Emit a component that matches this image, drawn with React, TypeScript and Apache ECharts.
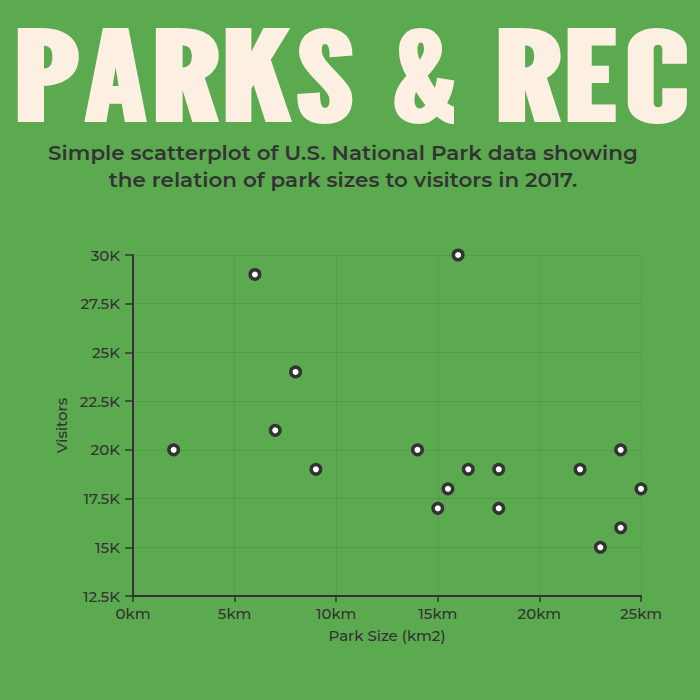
import React, { useEffect, useRef } from "react";
import * as echarts from "echarts";

const parkSizes = [2, 6, 7, 8, 9, 14, 15, 15.5, 16, 16.5, 18, 18, 22, 23, 24, 24, 25];
const visitors = [20000, 29000, 21000, 24000, 19000, 20000, 17000, 18000, 30000, 19000, 19000, 17000, 19000, 15000, 20000, 16000, 18000];
const titleText = "PARKS & REC";
const subtitleLines = [
  "Simple scatterplot of U.S. National Park data showing",
  "the relation of park sizes to visitors in 2017.",
];
const xAxisName = "Park Size (km2)";
const yAxisName = "Visitors";
const xMin = 0;
const xMax = 25;
const xStep = 5;
const yMin = 12500;
const yMax = 30000;
const yStep = 2500;

// horizontal ink extents of the title letters (layout, in px)
const titleLetterBoxes: [number, number][] = [
  [17, 79], [83, 147], [155, 220], [225, 293], [297, 353],
  [393, 455],
  [498, 562], [567, 617], [626, 687],
];
const TITLE_CAP_CENTER = 74;
const TITLE_CAP_HEIGHT = 103;

const TITLE_FONT = "'League Gothic', 'Liberation Sans Narrow', 'DejaVu Sans Condensed', 'DejaVu Sans', sans-serif";
const BODY_FONT = "'Montserrat', 'Noto Sans', 'Open Sans', sans-serif";

function getCtx(font: string) {
  const c = document.createElement("canvas");
  const ctx = c.getContext("2d");
  if (ctx) ctx.font = font;
  return ctx;
}

export default function App() {
  const ref = useRef<HTMLDivElement | null>(null);

  useEffect(() => {
    if (!ref.current) return;
    const chart = echarts.init(ref.current, undefined, { renderer: "svg" });

    const titleSize = 100;
    const titleFontStr = `bold ${titleSize}px ${TITLE_FONT}`;
    const tctx = getCtx(titleFontStr);
    const letters = titleText.replace(/ /g, "").split("");
    const capM = tctx ? tctx.measureText("H") : null;
    const c = (capM && capM.actualBoundingBoxAscent ? capM.actualBoundingBoxAscent : 72) / titleSize;
    const a = (capM && capM.fontBoundingBoxAscent ? capM.fontBoundingBoxAscent : 93) / titleSize;
    const d = (capM && capM.fontBoundingBoxDescent ? capM.fontBoundingBoxDescent : 24) / titleSize;
    // effective font size: as close to the reference cap height as the top edge allows
    const kMax = (TITLE_CAP_CENTER - 2) / (a - c / 2);
    const k = Math.min(TITLE_CAP_HEIGHT / c, kMax);
    const sy = k / titleSize;
    const baseline = TITLE_CAP_CENTER + (k * c) / 2;
    const centralY = baseline - (k * (a - d)) / 2;

    const titleGraphics = letters.map((ch, i) => {
      const [x0, x1] = titleLetterBoxes[i];
      let L = 0;
      let R = 0.6 * titleSize;
      if (tctx) {
        const m = tctx.measureText(ch);
        L = m.actualBoundingBoxLeft || 0;
        R = m.actualBoundingBoxRight || m.width;
      }
      const sx = (x1 - x0) / (L + R);
      return {
        type: "text",
        x: x0 + sx * L,
        y: centralY,
        scaleX: sx,
        scaleY: sy,
        style: {
          text: ch,
          fontSize: titleSize,
          fontWeight: "bold",
          fontFamily: TITLE_FONT,
          fill: "#fdf0e3",
          align: "left",
          verticalAlign: "middle",
        },
      };
    });

    const subSize = 20;
    const subWeight = 600;
    const sctx = getCtx(`${subWeight} ${subSize}px ${BODY_FONT}`);
    const sw = sctx ? sctx.measureText(subtitleLines[0]).width : 590;
    const subScaleX = Math.min(1.15, Math.max(0.8, 590 / (sw || 590)));

    const dark = "#333333";

    chart.setOption({
      animation: false,
      backgroundColor: "#5caa4f",
      graphic: [
        ...titleGraphics,
        ...subtitleLines.map((t, i) => ({
          type: "text",
          x: 343,
          y: 153 + i * 27,
          scaleX: subScaleX,
          style: {
            text: t,
            fontSize: subSize,
            fontWeight: subWeight,
            fontFamily: BODY_FONT,
            fill: dark,
            align: "center",
            verticalAlign: "middle",
          },
        })),
      ],
      grid: { left: 133, right: 59, top: 255, bottom: 104, containLabel: false },
      xAxis: {
        type: "value",
        min: xMin,
        max: xMax,
        interval: xStep,
        name: xAxisName,
        nameLocation: "middle",
        nameGap: 32,
        nameTextStyle: { color: dark, fontSize: 15, fontWeight: 500, fontFamily: BODY_FONT },
        axisLine: { show: true, onZero: false, lineStyle: { color: dark, width: 2 } },
        axisTick: { show: true, length: 6, lineStyle: { color: dark, width: 1.5 } },
        axisLabel: { color: dark, fontSize: 15, fontWeight: 500, fontFamily: BODY_FONT, margin: 10, formatter: "{value}km" },
        splitLine: { show: true, lineStyle: { color: "rgba(0,0,0,0.07)", width: 1 } },
      },
      yAxis: {
        type: "value",
        min: yMin,
        max: yMax,
        interval: yStep,
        name: yAxisName,
        nameLocation: "middle",
        nameGap: 60,
        nameTextStyle: { color: dark, fontSize: 15, fontWeight: 500, fontFamily: BODY_FONT },
        axisLine: { show: true, onZero: false, lineStyle: { color: dark, width: 2 } },
        axisTick: { show: true, length: 8, lineStyle: { color: dark, width: 1.5 } },
        axisLabel: {
          color: dark,
          fontSize: 15,
          fontWeight: 500,
          fontFamily: BODY_FONT,
          margin: 13,
          formatter: (v: number) => `${v / 1000}K`,
        },
        splitLine: { show: true, lineStyle: { color: "rgba(0,0,0,0.07)", width: 1 } },
      },
      series: [
        {
          type: "scatter",
          data: parkSizes.map((x, i) => [x, visitors[i]]),
          symbol: "circle",
          symbolSize: 9.5,
          clip: false,
          itemStyle: { color: "#ffffff", borderColor: dark, borderWidth: 3.5, opacity: 1 },
          emphasis: { disabled: true },
        },
      ],
    });

    return () => chart.dispose();
  }, []);

  return (
    <div
      ref={ref}
      style={{ position: "absolute", left: 0, top: 0, width: 700, height: 700 }}
    />
  );
}
